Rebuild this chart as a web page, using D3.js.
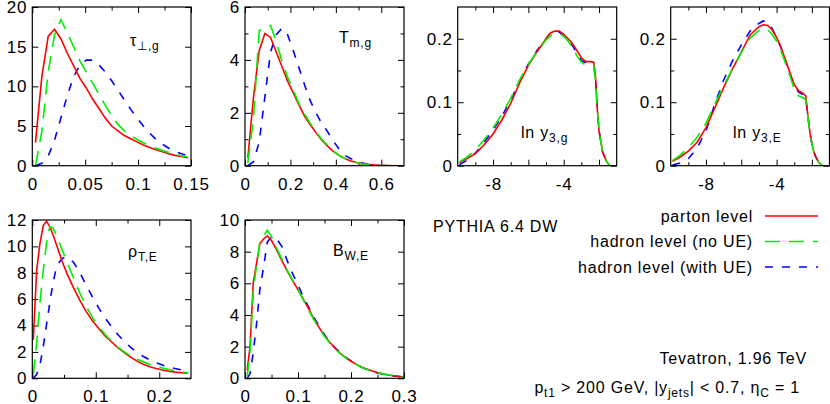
<!DOCTYPE html>
<html><head><meta charset="utf-8">
<script src="https://cdn.jsdelivr.net/npm/d3@7"></script>
<style>
body{margin:0;background:#fff}
svg text{font-family:"Liberation Sans",Arial,Helvetica,sans-serif;letter-spacing:0.8px;fill:#000}
</style></head><body>
<svg id="chart"></svg>
<script>
// ---------------- data ----------------
const seriesNames = ["parton level", "hadron level (no UE)", "hadron level (with UE)"];

// tau_perp,g
const tauX = [0.003,0.009,0.015,0.021,0.027,0.033,0.039,0.045,0.051,0.057,0.063,0.069,0.075,0.081,0.087,0.093,0.099,0.105,0.111,0.117,0.123,0.129,0.135,0.141,0.147];
const tauParton = [2.9,11.2,16.3,17.2,16.0,14.2,12.6,11.0,9.8,8.4,7.2,6.0,5.0,4.4,3.8,3.4,3.0,2.6,2.3,2.0,1.75,1.5,1.3,1.15,1.0];
const tauHadron = [0,4.3,11.8,16.5,18.4,16.8,15.0,13.2,11.8,10.4,9.0,7.6,6.3,5.2,4.4,3.8,3.3,2.9,2.5,2.2,1.9,1.65,1.45,1.25,1.1];
const tauHadronUE = [0,0.3,1.2,3.2,6.0,8.8,11.2,12.7,13.3,13.3,12.7,11.8,10.7,9.5,8.3,7.1,6.0,5.0,4.1,3.3,2.7,2.2,1.8,1.5,1.25];

// T_m,g
const tmX = [0.0125,0.0375,0.0625,0.0875,0.1125,0.1375,0.1625,0.1875,0.2125,0.2375,0.2625,0.2875,0.3125,0.3375,0.3625,0.3875,0.4125,0.4375,0.4625,0.4875,0.5125,0.5375,0.5625,0.5875,0.6125,0.6375,0.6625,0.6875];
const tmParton = [0.3,2.6,4.35,5.0,4.85,4.3,3.75,3.2,2.75,2.3,1.87,1.55,1.25,0.97,0.75,0.55,0.4,0.28,0.19,0.13,0.08,0.05,0.03,0.015,0.01,0.005,0,0];
const tmHadron = [0.1,1.8,5.1,5.22,5.3,4.7,3.95,3.35,2.85,2.35,1.95,1.6,1.28,1.0,0.78,0.57,0.4,0.28,0.19,0.12,0.07,0.04,0.02,0.01,0.005,0,0,0];
const tmHadronUE = [0,0.15,0.9,2.6,4.3,4.95,5.2,4.95,4.35,3.7,3.05,2.45,2.0,1.6,1.3,0.95,0.65,0.4,0.28,0.18,0.11,0.06,0.03,0.015,0.005,0,0,0];

// ln y3,g
const ly3gX = [-9.9,-9.5,-9.0,-8.5,-8.0,-7.5,-7.0,-6.5,-6.0,-5.5,-5.0,-4.75,-4.5,-4.25,-4.0,-3.75,-3.5,-3.25,-3.0,-2.75,-2.5,-2.3,-2.2,-2.1,-2.0,-1.8,-1.6,-1.4];
const ly3gParton = [0.005,0.011,0.019,0.033,0.050,0.072,0.098,0.130,0.158,0.180,0.200,0.209,0.212,0.212,0.207,0.200,0.192,0.181,0.170,0.164,0.164,0.163,0.14,0.09,0.055,0.022,0.008,0];
const ly3gHadron = [0.006,0.013,0.025,0.041,0.059,0.081,0.106,0.135,0.160,0.180,0.198,0.205,0.208,0.208,0.204,0.196,0.186,0.173,0.163,0.158,0.158,0.158,0.135,0.09,0.055,0.022,0.008,0];
const ly3gHadronUE = [0.002,0.008,0.02,0.037,0.056,0.078,0.103,0.133,0.160,0.182,0.200,0.209,0.211,0.210,0.206,0.198,0.189,0.177,0.166,0.162,0.162,0.16,0.137,0.09,0.055,0.022,0.008,0];

// ln y3,E
const ly3eX = [-9.9,-9.5,-9.0,-8.5,-8.0,-7.5,-7.0,-6.5,-6.0,-5.5,-5.0,-4.75,-4.5,-4.25,-4.0,-3.75,-3.5,-3.25,-3.0,-2.75,-2.5,-2.35,-2.25,-2.1,-1.95,-1.8,-1.6,-1.4];
const ly3eParton = [0.007,0.013,0.023,0.037,0.06,0.091,0.123,0.152,0.179,0.206,0.219,0.222,0.221,0.214,0.202,0.187,0.167,0.147,0.128,0.118,0.114,0.11,0.085,0.05,0.028,0.015,0.005,0];
const ly3eHadron = [0.008,0.016,0.028,0.045,0.067,0.097,0.126,0.153,0.178,0.201,0.213,0.216,0.214,0.207,0.196,0.181,0.162,0.142,0.121,0.11,0.107,0.104,0.082,0.05,0.028,0.015,0.005,0];
const ly3eHadronUE = [0.001,0.004,0.011,0.028,0.055,0.097,0.135,0.165,0.19,0.212,0.224,0.228,0.226,0.216,0.202,0.186,0.166,0.146,0.126,0.116,0.112,0.108,0.084,0.05,0.028,0.015,0.005,0];

// rho_T,E
const rhoX = [0.0016,0.0069,0.012,0.0173,0.0225,0.0275,0.0325,0.0375,0.0425,0.0475,0.055,0.065,0.075,0.085,0.095,0.105,0.115,0.125,0.135,0.145,0.155,0.165,0.175,0.185,0.195,0.205,0.215,0.225,0.235,0.245];
const rhoParton = [2.9,8.2,10.2,11.6,11.9,11.5,10.9,10.2,9.5,8.8,7.9,6.85,5.9,5.05,4.35,3.75,3.2,2.75,2.3,1.95,1.6,1.3,1.07,0.88,0.74,0.63,0.54,0.47,0.42,0.38];
const rhoHadron = [0.3,2.7,5.7,8.2,10.3,11.5,11.4,10.9,10.3,9.7,8.75,7.6,6.45,5.45,4.6,3.9,3.3,2.8,2.35,2.0,1.7,1.45,1.25,1.05,0.9,0.78,0.67,0.57,0.49,0.42];
const rhoHadronUE = [0,0.3,1.0,2.4,4.1,5.7,7.2,8.3,8.8,9.1,9.2,8.8,8.0,7.05,6.15,5.3,4.55,3.9,3.3,2.8,2.35,1.95,1.65,1.4,1.18,1.0,0.86,0.74,0.64,0.56];

// B_W,E
const bwX = [0.004,0.0095,0.0155,0.022,0.028,0.035,0.042,0.05,0.06,0.07,0.08,0.09,0.1,0.11,0.12,0.13,0.14,0.15,0.16,0.17,0.18,0.19,0.2,0.21,0.22,0.23,0.24,0.25,0.26,0.27,0.28,0.29,0.3];
const bwParton = [0.5,2.0,6.0,7.3,8.5,8.8,9.0,8.7,8.1,7.4,6.75,6.15,5.6,5.0,4.4,3.75,3.2,2.68,2.28,1.9,1.57,1.3,1.08,0.88,0.72,0.58,0.46,0.36,0.28,0.21,0.16,0.12,0.08];
const bwHadron = [0.1,1.6,5.5,7.2,8.6,9.0,9.35,8.95,8.2,7.5,6.8,6.2,5.6,4.95,4.3,3.7,3.15,2.65,2.22,1.85,1.55,1.28,1.06,0.87,0.7,0.56,0.45,0.36,0.28,0.22,0.17,0.13,0.09];
const bwHadronUE = [0,0.3,1.6,3.5,5.6,7.0,8.6,8.95,8.8,8.3,7.4,6.6,5.9,5.15,4.5,3.85,3.28,2.75,2.3,1.92,1.62,1.33,1.1,0.88,0.7,0.55,0.43,0.33,0.26,0.2,0.15,0.11,0.08];

// tick values and labels
const tauXTicks = [0,0.05,0.1,0.15], tauXLabels = ["0","0.05","0.1","0.15"], tauXMinor = [0.025,0.075,0.125];
const tauYTicks = [0,5,10,15,20], tauYLabels = ["0","5","10","15","20"], tauYMinor = [];
const tmXTicks = [0,0.2,0.4,0.6], tmXLabels = ["0","0.2","0.4","0.6"], tmXMinor = [0.1,0.3,0.5];
const tmYTicks = [0,2,4,6], tmYLabels = ["0","2","4","6"], tmYMinor = [1,3,5];
const lyXTicks = [-8,-4], lyXLabels = ["-8","-4"], lyXMajorUnl = [-6,-2], lyXMinor = [-9,-7,-5,-3];
const lyYTicks = [0,0.1,0.2], lyYLabels = ["0","0.1","0.2"], lyYMinor = [0.05,0.15];
const rhoXTicks = [0,0.1,0.2], rhoXLabels = ["0","0.1","0.2"], rhoXMinor = [0.05,0.15];
const rhoYTicks = [0,2,4,6,8,10,12], rhoYLabels = ["0","2","4","6","8","10","12"], rhoYMinor = [];
const bwXTicks = [0,0.1,0.2,0.3], bwXLabels = ["0","0.1","0.2","0.3"], bwXMinor = [0.05,0.15,0.25];
const bwYTicks = [0,2,4,6,8,10], bwYLabels = ["0","2","4","6","8","10"], bwYMinor = [];

// ---------------- drawing ----------------
const W = 830, H = 404;
const svg = d3.select("#chart").attr("width", W).attr("height", H);
const defs = svg.append("defs");
const styles = [
  {stroke:"#ff0000", dash:null},
  {stroke:"#00f000", dash:"15,9"},
  {stroke:"#0000ff", dash:"8,9"}
];
const FS = 16, TFS = 17;

const panels = [
  {box:[32.3,191,7,165.7], xd:[0,0.15], yd:[0,20], xs:tauX, ys:[tauParton,tauHadron,tauHadronUE],
   xt:tauXTicks, xl:tauXLabels, xm:tauXMinor, xu:[], yt:tauYTicks, yl:tauYLabels, ym:tauYMinor,
   label:{x:130,y:46,main:"τ",sub:"⊥,g"}},
  {box:[245,404,7,165.7], xd:[0,0.7], yd:[0,6], xs:tmX, ys:[tmParton,tmHadron,tmHadronUE],
   xt:tmXTicks, xl:tmXLabels, xm:tmXMinor, xu:[], yt:tmYTicks, yl:tmYLabels, ym:tmYMinor,
   label:{x:339,y:43,main:"T",sub:"m,g"}},
  {box:[457.7,616.7,7,165.7], xd:[-10,-1], yd:[0,0.25], xs:ly3gX, ys:[ly3gParton,ly3gHadron,ly3gHadronUE],
   xt:lyXTicks, xl:lyXLabels, xm:lyXMinor, xu:lyXMajorUnl, yt:lyYTicks, yl:lyYLabels, ym:lyYMinor,
   label:{x:521,y:138,main:"ln y",sub:"3,g"}},
  {box:[670.7,829.5,7,165.7], xd:[-10,-1], yd:[0,0.25], xs:ly3eX, ys:[ly3eParton,ly3eHadron,ly3eHadronUE],
   xt:lyXTicks, xl:lyXLabels, xm:lyXMinor, xu:lyXMajorUnl, yt:lyYTicks, yl:lyYLabels, ym:lyYMinor,
   label:{x:733,y:138,main:"ln y",sub:"3,E"}},
  {box:[32.3,191,220,378.3], xd:[0,0.25], yd:[0,12], xs:rhoX, ys:[rhoParton,rhoHadron,rhoHadronUE],
   xt:rhoXTicks, xl:rhoXLabels, xm:rhoXMinor, xu:[], yt:rhoYTicks, yl:rhoYLabels, ym:rhoYMinor,
   label:{x:128,y:257,main:"ρ",sub:"T,E"}},
  {box:[245,404,220,378.3], xd:[0,0.3], yd:[0,10], xs:bwX, ys:[bwParton,bwHadron,bwHadronUE],
   xt:bwXTicks, xl:bwXLabels, xm:bwXMinor, xu:[], yt:bwYTicks, yl:bwYLabels, ym:bwYMinor,
   label:{x:333,y:256,main:"B",sub:"W,E"}}
];

function styleAxis(g){
  g.select(".domain").remove();
  g.selectAll("line").attr("stroke","#000").attr("stroke-width",1);
  g.selectAll("text").attr("font-size",TFS).attr("font-family",null).attr("fill","#000");
  g.attr("font-family",null).attr("font-size",TFS);
}

panels.forEach((p,i)=>{
  const [x0,x1,y0,y1] = p.box;
  const x = d3.scaleLinear().domain(p.xd).range([x0,x1]);
  const y = d3.scaleLinear().domain(p.yd).range([y1,y0]);
  const g = svg.append("g");
  const cid = "clip"+i;
  defs.append("clipPath").attr("id",cid).append("rect")
    .attr("x",x0).attr("y",y0).attr("width",x1-x0).attr("height",y1-y0);

  const maj = 6, mnr = 3.5;
  const xMajAll = p.xt.concat(p.xu);
  g.append("g").attr("transform",`translate(0,${y1})`)
    .call(d3.axisBottom(x).tickValues(p.xt).tickSize(-maj).tickPadding(12).tickFormat((d,k)=>p.xl[k]))
    .call(styleAxis);
  g.append("g").attr("transform",`translate(0,${y1})`)
    .call(d3.axisBottom(x).tickValues(p.xu).tickSize(-maj).tickFormat(""))
    .call(styleAxis);
  g.append("g").attr("transform",`translate(0,${y1})`)
    .call(d3.axisBottom(x).tickValues(p.xm).tickSize(-mnr).tickFormat(""))
    .call(styleAxis);
  g.append("g").attr("transform",`translate(0,${y0})`)
    .call(d3.axisTop(x).tickValues(xMajAll).tickSize(-maj).tickFormat(""))
    .call(styleAxis);
  g.append("g").attr("transform",`translate(0,${y0})`)
    .call(d3.axisTop(x).tickValues(p.xm).tickSize(-mnr).tickFormat(""))
    .call(styleAxis);
  g.append("g").attr("transform",`translate(${x0},0)`)
    .call(d3.axisLeft(y).tickValues(p.yt).tickSize(-maj).tickPadding(5).tickFormat((d,k)=>p.yl[k]))
    .call(styleAxis);
  g.append("g").attr("transform",`translate(${x0},0)`)
    .call(d3.axisLeft(y).tickValues(p.ym).tickSize(-mnr).tickFormat(""))
    .call(styleAxis);
  g.append("g").attr("transform",`translate(${x1},0)`)
    .call(d3.axisRight(y).tickValues(p.yt).tickSize(-maj).tickFormat(""))
    .call(styleAxis);
  g.append("g").attr("transform",`translate(${x1},0)`)
    .call(d3.axisRight(y).tickValues(p.ym).tickSize(-mnr).tickFormat(""))
    .call(styleAxis);

  const line = d3.line().x(d=>x(d[0])).y(d=>y(d[1]));
  const lg = g.append("g").attr("clip-path",`url(#${cid})`);
  [2,0,1].forEach(si=>{
    const st = styles[si];
    lg.append("path")
      .datum(p.xs.map((v,k)=>[v,p.ys[si][k]]))
      .attr("d",line).attr("fill","none")
      .attr("stroke",st.stroke).attr("stroke-width",1.6)
      .attr("stroke-dasharray",st.dash);
  });

  g.append("rect").attr("x",x0).attr("y",y0).attr("width",x1-x0).attr("height",y1-y0)
    .attr("fill","none").attr("stroke","#000").attr("stroke-width",1.2);

  const t = g.append("text").attr("x",p.label.x).attr("y",p.label.y).attr("font-size",FS);
  t.append("tspan").text(p.label.main);
  t.append("tspan").attr("font-size",12).attr("dy",4).text(p.label.sub);
});

svg.append("text").attr("x",433).attr("y",232).attr("font-size",FS).text("PYTHIA 6.4 DW");

const legY = [221.5,247,272.5];
seriesNames.forEach((n,i)=>{
  svg.append("text").attr("x",753).attr("y",legY[i]).attr("text-anchor","end").attr("font-size",FS).text(n);
  svg.append("line").attr("x1",765).attr("x2",818).attr("y1",legY[i]-5.5).attr("y2",legY[i]-5.5)
    .attr("stroke",styles[i].stroke).attr("stroke-width",1.6).attr("stroke-dasharray",styles[i].dash);
});

svg.append("text").attr("x",807).attr("y",364).attr("text-anchor","end").attr("font-size",FS).text("Tevatron, 1.96 TeV");
const t2 = svg.append("text").attr("x",800).attr("y",393).attr("text-anchor","end").attr("font-size",FS);
t2.append("tspan").text("p");
t2.append("tspan").attr("font-size",12).attr("dy",4).text("t1");
t2.append("tspan").attr("dy",-4).text(" > 200 GeV, |y");
t2.append("tspan").attr("font-size",12).attr("dy",4).text("jets");
t2.append("tspan").attr("dy",-4).text("| < 0.7, η");
t2.append("tspan").attr("font-size",12).attr("dy",4).text("C");
t2.append("tspan").attr("dy",-4).text(" = 1");
</script>
</body></html>
